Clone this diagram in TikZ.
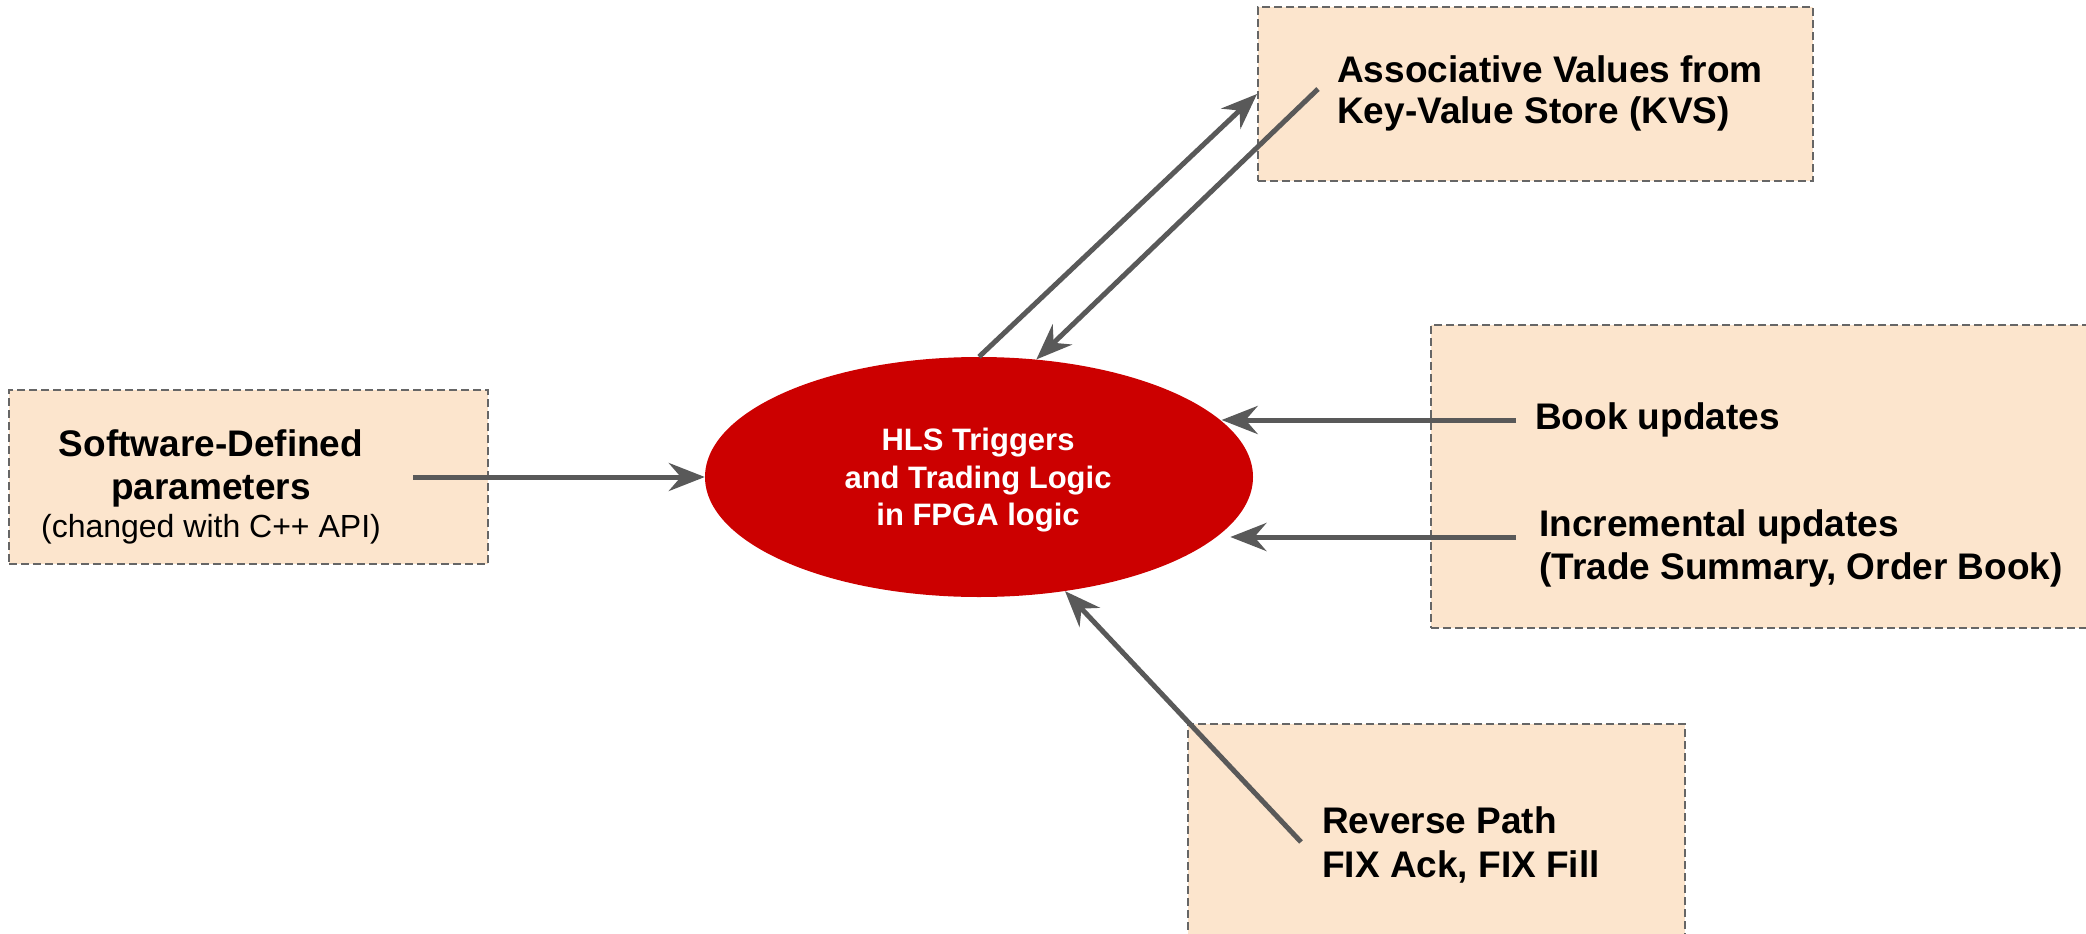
\documentclass[tikz,border=0pt]{standalone}
\usepackage{fontspec}
\setmainfont{Liberation Sans}
\usetikzlibrary{arrows.meta,shapes.geometric}
\definecolor{boxfill}{HTML}{FCE5CD}
\definecolor{boxline}{HTML}{666666}
\definecolor{arrowgray}{HTML}{595959}
\definecolor{corered}{HTML}{CC0000}

\begin{document}
\begin{tikzpicture}[x=1pt,y=-1pt,
  panel/.style={draw=boxline, fill=boxfill, line width=2pt, dash pattern=on 8pt off 4pt, inner sep=0pt},
  core/.style={ellipse, fill=corered, inner sep=0pt, minimum width=548pt, minimum height=240pt},
  boldtxt/.style={font=\fontsize{37}{42}\selectfont\bfseries, inner sep=0pt, text=black},
  smalltxt/.style={font=\fontsize{32}{37}\selectfont, inner sep=0pt, text=black},
  coretxt/.style={font=\fontsize{31}{37}\selectfont\bfseries, text=white, inner sep=0pt},
  flow/.style={draw=arrowgray, line width=5pt, -{Stealth[length=36pt,width=28pt,inset=12pt]}}
]
\useasboundingbox (0,0) rectangle (2086,934);
\clip (0,0) rectangle (2086,934);

% panels
\node[panel, minimum width=555pt, minimum height=174pt] (kvs) at (1535.5,94) {};
\node[panel, minimum width=479pt, minimum height=174pt] (soft) at (248.5,477) {};
\node[panel, minimum width=700pt, minimum height=303pt] (feed) at (1781,476.5) {};
\node[panel, minimum width=497pt, minimum height=260pt] (rev) at (1436.5,854) {};

% trading core
\node[core] (ell) at (979,477) {};
\node[coretxt, anchor=base] (ellA) at (978,450) {HLS Triggers};
\node[coretxt, anchor=base] (ellB) at (978,488) {and Trading Logic};
\node[coretxt, anchor=base] (ellC) at (978,525) {in FPGA logic};

% panel texts
\node[boldtxt, anchor=base west] (kvsA) at (1337,82) {Associative Values from};
\node[boldtxt, anchor=base west] (kvsB) at (1337,123) {Key-Value Store (KVS)};

\node[boldtxt, anchor=base] (softA) at (211,456) {Software-Defined};
\node[boldtxt, anchor=base] (softB) at (211,499) {parameters};
\node[smalltxt, anchor=base] (softC) at (211,537) {(changed with C++ API)};

\node[boldtxt, anchor=base west] (bookA) at (1535,429) {Book updates};
\node[boldtxt, anchor=base west] (incA) at (1539,536) {Incremental updates};
\node[boldtxt, anchor=base west] (incB) at (1539,579) {(Trade Summary, Order Book)};

\node[boldtxt, anchor=base west] (revA) at (1322,833) {Reverse Path};
\node[boldtxt, anchor=base west] (revB) at (1322,877) {FIX Ack, FIX Fill};

% connector start points
\coordinate (softOut) at (413,477);
\coordinate (kvsOut) at (1318,89);
\coordinate (bookOut) at (1516,420);
\coordinate (incOut) at (1516,537);
\coordinate (revOut) at (1301,842);

% connectors
\draw[flow] (softOut) -- (ell.west);
\draw[flow] (ell.north) -- (kvs.west);
\draw[flow] (kvsOut) -- (ell.64);
\draw[flow] (bookOut) -- (bookOut -| ell.13);
\draw[flow, shorten >=13pt] (incOut) -- (incOut -| ell.-14);
\draw[flow] (revOut) -- (ell.-53);
\end{tikzpicture}
\end{document}
